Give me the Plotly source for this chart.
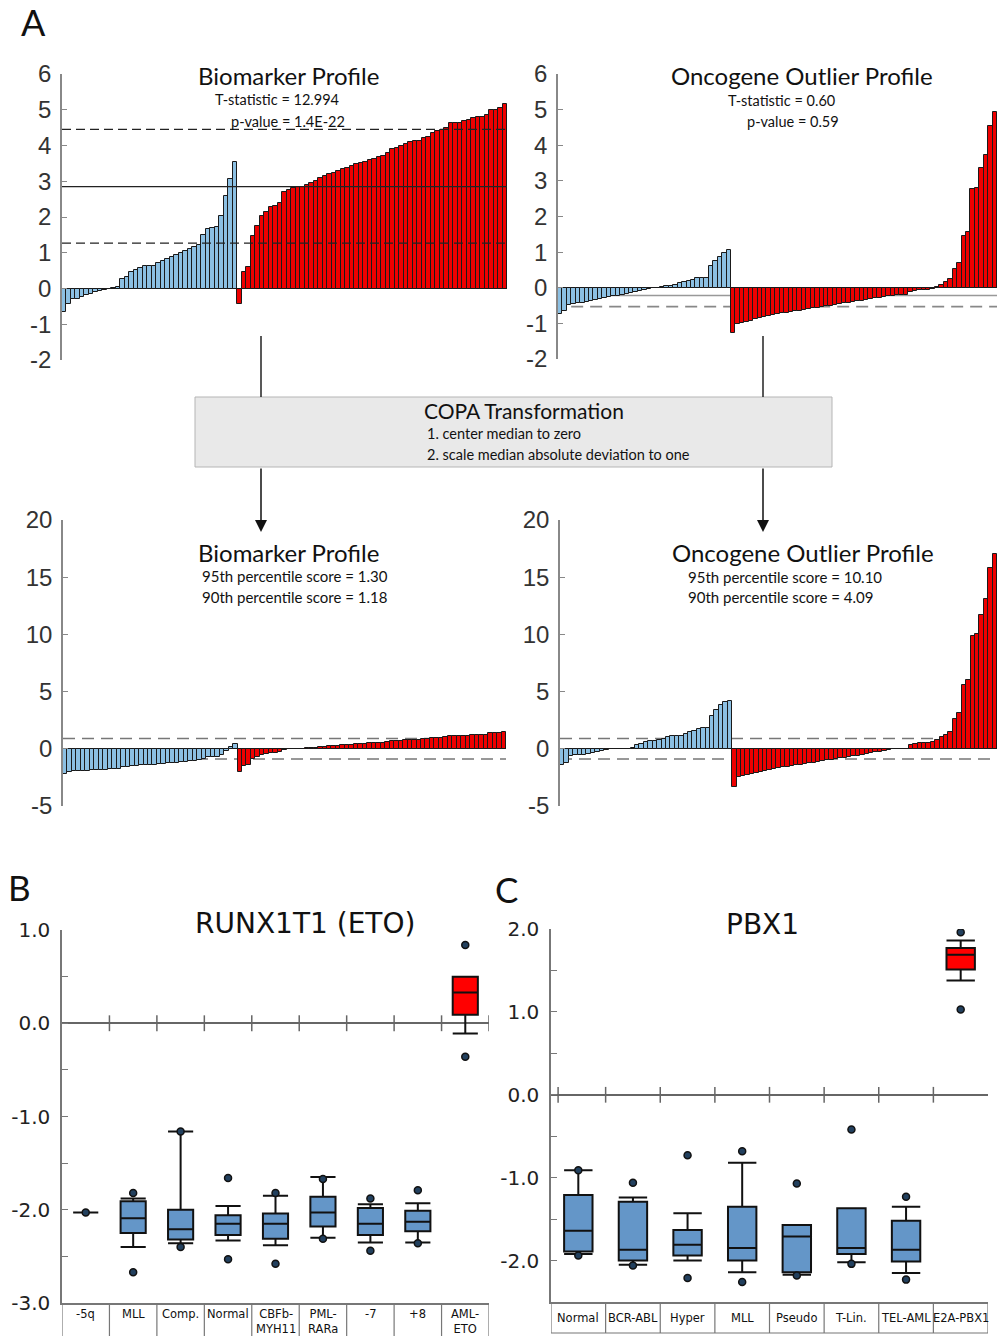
import plotly.graph_objects as go

W, H = 997, 1336
def fx(p): return p / W
def fy(p): return 1 - p / H

# ---------------- data: panel A (raw profiles) ----------------
bio_blue = [-0.65, -0.44, -0.30, -0.28, -0.23, -0.19, -0.14, -0.11, -0.07, -0.05,
            -0.02, 0.02, 0.05, 0.26, 0.33, 0.47, 0.51, 0.56, 0.62, 0.63,
            0.64, 0.70, 0.76, 0.82, 0.88, 0.93, 1.00, 1.04, 1.10, 1.16,
            1.23, 1.49, 1.67, 1.68, 1.72, 2.03, 2.60, 3.07, 3.55]
bio_red = [-0.44, 0.45, 0.59, 1.47, 1.75, 2.03, 2.13, 2.28, 2.31, 2.40,
           2.70, 2.75, 2.80, 2.83, 2.85, 2.90, 2.95, 3.00, 3.10, 3.15,
           3.20, 3.22, 3.30, 3.35, 3.38, 3.43, 3.48, 3.52, 3.55, 3.60,
           3.62, 3.67, 3.72, 3.80, 3.90, 3.92, 4.00, 4.05, 4.10, 4.12,
           4.14, 4.20, 4.25, 4.35, 4.40, 4.42, 4.50, 4.62, 4.62, 4.63,
           4.68, 4.70, 4.78, 4.80, 4.80, 4.85, 5.00, 5.00, 5.05, 5.15]
onc_blue = [-0.75, -0.66, -0.49, -0.46, -0.44, -0.42, -0.40, -0.37, -0.34, -0.31,
            -0.28, -0.26, -0.24, -0.22, -0.20, -0.17, -0.14, -0.11, -0.08, -0.05,
            -0.03, -0.01, 0.00, 0.02, 0.04, 0.06, 0.09, 0.12, 0.15, 0.19,
            0.23, 0.26, 0.27, 0.28, 0.60, 0.74, 0.87, 0.98, 1.06]
onc_red = [-1.28, -1.02, -0.98, -0.95, -0.92, -0.89, -0.86, -0.83, -0.80, -0.77,
           -0.74, -0.72, -0.70, -0.68, -0.66, -0.64, -0.62, -0.60, -0.58, -0.56,
           -0.54, -0.52, -0.50, -0.48, -0.46, -0.44, -0.42, -0.40, -0.38, -0.36,
           -0.34, -0.32, -0.30, -0.28, -0.26, -0.24, -0.22, -0.21, -0.20, -0.19,
           -0.13, -0.10, -0.07, -0.06, -0.06, -0.03, 0.03, 0.09, 0.15, 0.25,
           0.53, 0.70, 1.46, 1.56, 2.78, 2.80, 3.36, 3.74, 4.53, 4.93]

# ---------------- data: panel A (COPA transformed) ----------------
copa_bio_blue = [-2.19, -2.06, -1.97, -1.96, -1.93, -1.90, -1.87, -1.85, -1.83, -1.81,
                 -1.79, -1.77, -1.75, -1.62, -1.58, -1.49, -1.46, -1.43, -1.39, -1.39,
                 -1.38, -1.34, -1.31, -1.27, -1.23, -1.20, -1.16, -1.13, -1.09, -1.06,
                 -1.01, -0.85, -0.74, -0.73, -0.71, -0.51, -0.16, 0.14, 0.44]
copa_bio_red = [-2.06, -1.50, -1.41, -0.86, -0.69, -0.51, -0.45, -0.36, -0.34, -0.28,
                -0.09, -0.06, -0.03, -0.01, 0.00, 0.03, 0.06, 0.09, 0.16, 0.19,
                0.22, 0.23, 0.28, 0.31, 0.33, 0.36, 0.39, 0.42, 0.44, 0.47,
                0.48, 0.51, 0.54, 0.59, 0.66, 0.67, 0.72, 0.75, 0.78, 0.79,
                0.81, 0.84, 0.88, 0.94, 0.97, 0.98, 1.03, 1.11, 1.11, 1.11,
                1.14, 1.16, 1.21, 1.22, 1.22, 1.25, 1.34, 1.34, 1.38, 1.44]
copa_onc_blue = [-1.38, -1.20, -0.60, -0.55, -0.52, -0.50, -0.47, -0.35, -0.25, -0.15,
                 -0.10, -0.05, -0.03, -0.01, 0.00, 0.01, 0.10, 0.30, 0.45, 0.58,
                 0.68, 0.72, 0.80, 0.90, 1.00, 1.10, 1.10, 1.15, 1.30, 1.45,
                 1.60, 1.75, 1.80, 1.85, 2.90, 3.40, 3.80, 4.10, 4.20]
copa_onc_red = [-3.37, -2.49, -2.40, -2.30, -2.20, -2.10, -2.00, -1.92, -1.85, -1.78,
                -1.70, -1.63, -1.57, -1.50, -1.44, -1.38, -1.32, -1.26, -1.20, -1.14,
                -1.08, -1.02, -0.96, -0.90, -0.84, -0.78, -0.72, -0.66, -0.60, -0.53,
                -0.46, -0.39, -0.32, -0.25, -0.18, -0.10, -0.03, 0.00, 0.00, 0.02,
                0.30, 0.40, 0.50, 0.50, 0.55, 0.60, 0.80, 1.00, 1.20, 1.50,
                2.60, 3.10, 5.60, 6.00, 9.90, 10.00, 11.70, 13.10, 15.80, 17.00]

bio_lines = {"upper": 4.45, "median": 2.85, "lower": 1.27}
onc_lines = {"median": -0.22, "lower": -0.53}
copa_lines = {"upper": 0.9, "lower": -0.9}
raw_ticks = [-2, -1, 0, 1, 2, 3, 4, 5, 6]
copa_ticks = [-5, 0, 5, 10, 15, 20]

# ---------------- data: panel B (RUNX1T1) ----------------
b_cats = ["-5q", "MLL", "Comp.", "Normal", "CBFb-<br>MYH11", "PML-<br>RARa", "-7", "+8", "AML-<br>ETO"]
b_q1 = [-2.03, -2.25, -2.32, -2.27, -2.31, -2.18, -2.27, -2.23, 0.09]
b_med = [-2.03, -2.09, -2.21, -2.15, -2.15, -2.03, -2.15, -2.13, 0.33]
b_q3 = [-2.03, -1.91, -2.00, -2.06, -2.04, -1.86, -1.98, -2.01, 0.50]
b_lo = [-2.03, -2.40, -2.36, -2.33, -2.38, -2.30, -2.35, -2.35, -0.11]
b_hi = [-2.03, -1.88, -1.16, -1.96, -1.85, -1.65, -1.94, -1.93, 0.50]
b_out = [[-2.03], [-1.82, -2.67], [-1.16, -2.40], [-1.66, -2.53], [-1.82, -2.58],
         [-1.67, -2.31], [-1.88, -2.44], [-1.79, -2.36], [0.84, -0.36]]
b_red = [False] * 8 + [True]

# ---------------- data: panel C (PBX1) ----------------
c_cats = ["Normal", "BCR-ABL", "Hyper", "MLL", "Pseudo", "T-Lin.", "TEL-AML", "E2A-PBX1"]
c_q1 = [-1.89, -2.00, -1.94, -2.00, -2.14, -1.92, -2.01, 1.51]
c_med = [-1.64, -1.87, -1.81, -1.85, -1.71, -1.85, -1.87, 1.69]
c_q3 = [-1.21, -1.29, -1.63, -1.35, -1.57, -1.37, -1.52, 1.77]
c_lo = [-1.92, -2.05, -2.00, -2.14, -2.17, -2.02, -2.15, 1.38]
c_hi = [-0.91, -1.24, -1.43, -0.82, -1.57, -1.37, -1.35, 1.86]
c_out = [[-0.91, -1.94], [-1.06, -2.06], [-0.73, -2.21], [-0.68, -2.26],
         [-1.07, -2.18], [-0.42, -2.04], [-1.23, -2.23], [1.96, 1.03]]
c_red = [False] * 7 + [True]

BLUE = "#8CC0E3"
RED = "#EE0000"
BOXBLUE = "#6496C8"
TFONT = "Lato"

fig = go.Figure()

# ---------------- bar panels ----------------
def add_bars(blue, red, n):
    xa = "x" if n == 1 else f"x{n}"
    ya = "y" if n == 1 else f"y{n}"
    xb = list(range(len(blue)))
    xr = list(range(len(blue), len(blue) + len(red)))
    fig.add_trace(go.Bar(x=xb, y=blue, xaxis=xa, yaxis=ya, width=1,
                         marker=dict(color=BLUE, line=dict(color="#1a1a1a", width=1)),
                         showlegend=False, hoverinfo="skip"))
    fig.add_trace(go.Bar(x=xr, y=red, xaxis=xa, yaxis=ya, width=1,
                         marker=dict(color=RED, line=dict(color="#1a1a1a", width=1)),
                         showlegend=False, hoverinfo="skip"))

add_bars(bio_blue, bio_red, 1)
add_bars(onc_blue, onc_red, 2)
add_bars(copa_bio_blue, copa_bio_red, 3)
add_bars(copa_onc_blue, copa_onc_red, 4)

nbars = len(bio_blue) + len(bio_red)

def bar_axes(xdom, ydom, yr, tv, ylab_anchor):
    xa = dict(domain=xdom, range=[-0.5, nbars - 0.5], visible=False, anchor=ylab_anchor[1],
              automargin=False)
    ya = dict(domain=ydom, range=yr, anchor=ylab_anchor[0], tickvals=tv,
              ticktext=[str(v) for v in tv], ticks="inside", ticklen=5, tickwidth=1.2,
              tickcolor="#888", showline=True, linecolor="#888", linewidth=1.5,
              showgrid=False, zeroline=True, zerolinecolor="#111", zerolinewidth=1,
              tickfont=dict(family="Liberation Sans", size=24, color="#333"),
              ticklabelstandoff=4, automargin=False)
    return xa, ya

xa1, ya1 = bar_axes([fx(62), fx(507)], [fy(360), fy(74)], [-2, 6], raw_ticks, ("x", "y"))
xa2, ya2 = bar_axes([fx(558), 1.0], [fy(359), fy(74)], [-2, 6], raw_ticks, ("x2", "y2"))
xa3, ya3 = bar_axes([fx(63), fx(506)], [fy(806), fy(520)], [-5, 20], copa_ticks, ("x3", "y3"))
xa4, ya4 = bar_axes([fx(560), 1.0], [fy(806), fy(520)], [-5, 20], copa_ticks, ("x4", "y4"))

shapes = []
# reference lines, top-left (drawn over bars)
for key, val in bio_lines.items():
    shapes.append(dict(type="line", xref="x domain", yref="y", x0=0, x1=1, y0=val, y1=val,
                       line=dict(color="#222", width=1.3, dash="solid" if key == "median" else "9px,5px"),
                       layer="above"))
# top-right
shapes.append(dict(type="line", xref="x2 domain", yref="y2", x0=0, x1=1,
                   y0=onc_lines["median"], y1=onc_lines["median"],
                   line=dict(color="#999", width=1.5), layer="below"))
shapes.append(dict(type="line", xref="x2 domain", yref="y2", x0=0.03, x1=1,
                   y0=onc_lines["lower"], y1=onc_lines["lower"],
                   line=dict(color="#888", width=1.8, dash="12px,7px"), layer="below"))
# bottom panels
for n in (3, 4):
    for key, val in copa_lines.items():
        shapes.append(dict(type="line", xref=f"x{n} domain", yref=f"y{n}", x0=0, x1=1, y0=val, y1=val,
                           line=dict(color="#777", width=1.5, dash="12px,7px"), layer="below"))

# ---------------- box panels ----------------
def add_boxes(n, q1, med, q3, lo, hi, outs, red, width):
    xa, ya = f"x{n}", f"y{n}"
    for is_red, color in ((False, BOXBLUE), (True, "#FF0000")):
        idx = [i for i in range(len(q1)) if red[i] == is_red]
        fig.add_trace(go.Box(x=idx, q1=[q1[i] for i in idx], median=[med[i] for i in idx],
                             q3=[q3[i] for i in idx], lowerfence=[lo[i] for i in idx],
                             upperfence=[hi[i] for i in idx], xaxis=xa, yaxis=ya,
                             width=width, whiskerwidth=1, fillcolor=color,
                             line=dict(color="#111", width=2), boxpoints=False,
                             showlegend=False, hoverinfo="skip"))
    ox, oy = [], []
    for i, vals in enumerate(outs):
        for v in vals:
            ox.append(i)
            oy.append(v)
    fig.add_trace(go.Scatter(x=ox, y=oy, mode="markers", xaxis=xa, yaxis=ya,
                             marker=dict(size=7, color="#22405e", line=dict(color="#111", width=1.5)),
                             showlegend=False, hoverinfo="skip"))

add_boxes(5, b_q1, b_med, b_q3, b_lo, b_hi, b_out, b_red, 0.53)
add_boxes(6, c_q1, c_med, c_q3, c_lo, c_hi, c_out, c_red, 0.52)

def box_axes(xdom, ydom, ncat, yr, tv, n):
    xa = dict(domain=xdom, range=[-0.5, ncat - 0.5], anchor=f"y{n}", showline=True,
              linecolor="#777", linewidth=1.5, ticks="", showticklabels=False,
              showgrid=False, zeroline=False, automargin=False)
    tt = [(f"{v:.1f}" if float(v).is_integer() else "") for v in tv]
    ya = dict(domain=ydom, range=yr, anchor=f"x{n}", tickvals=tv, ticktext=tt,
              ticks="inside", ticklen=6, tickwidth=1.2, tickcolor="#777",
              showline=True, linecolor="#777", linewidth=1.5, showgrid=False,
              zeroline=True, zerolinecolor="#666", zerolinewidth=1.5,
              tickfont=dict(family="DejaVu Sans", size=20, color="#222"),
              ticklabelstandoff=6, automargin=False)
    return xa, ya

b_ticks = [-3, -2.5, -2, -1.5, -1, -0.5, 0, 0.5, 1]
c_ticks = [-2.5, -2, -1.5, -1, -0.5, 0, 0.5, 1, 1.5, 2]
xa5, ya5 = box_axes([fx(62), fx(489)], [fy(1303), fy(930)], len(b_cats), [-3, 1], b_ticks, 5)
xa6, ya6 = box_axes([fx(551), fx(988)], [fy(1302), fy(929)], len(c_cats), [-2.5, 2.0], c_ticks, 6)

# zero-line tick marks at category boundaries
for i in range(len(b_cats)):
    shapes.append(dict(type="line", xref="x5", yref="y5", x0=i + 0.5, x1=i + 0.5, y0=-0.085, y1=0.085,
                       line=dict(color="#666", width=1.5)))
for i in range(-1, len(c_cats) - 1):
    xb = i + 0.5 if i >= 0 else -0.37
    shapes.append(dict(type="line", xref="x6", yref="y6", x0=xb, x1=xb, y0=-0.095, y1=0.095,
                       line=dict(color="#666", width=1.5)))
# label cells
for i in range(len(b_cats) + 1):
    shapes.append(dict(type="line", xref="x5", yref="paper", x0=i - 0.5, x1=i - 0.5,
                       y0=fy(1303), y1=fy(1340), line=dict(color="#777", width=1.2)))
for i in range(len(c_cats) + 1):
    shapes.append(dict(type="line", xref="x6", yref="paper", x0=i - 0.5, x1=i - 0.5,
                       y0=fy(1302), y1=fy(1333), line=dict(color="#777", width=1.2)))
shapes.append(dict(type="line", xref="x6", yref="paper", x0=-0.5, x1=len(c_cats) - 0.5,
                   y0=fy(1333), y1=fy(1333), line=dict(color="#777", width=1.2)))

# COPA box and connectors
shapes.append(dict(type="rect", xref="paper", yref="paper", x0=fx(195), x1=fx(832),
                   y0=fy(467), y1=fy(397), fillcolor="#E9E9E9", line=dict(color="#B5B5B5", width=1),
                   layer="below"))
for xc in (261, 763):
    shapes.append(dict(type="line", xref="paper", yref="paper", x0=fx(xc), x1=fx(xc),
                       y0=fy(336), y1=fy(397), line=dict(color="#222", width=1.5)))

annotations = []
def txt(x, y, s, size, family=TFONT, xanchor="center", color="#111", xref="paper", yref="paper", yanchor="middle"):
    annotations.append(dict(x=x, y=y, xref=xref, yref=yref, text=s, showarrow=False,
                            xanchor=xanchor, yanchor=yanchor,
                            font=dict(family=family, size=size, color=color)))

for xc in (261, 763):
    annotations.append(dict(x=fx(xc), y=fy(532), xref="paper", yref="paper", text="",
                            showarrow=True, ax=0, ay=-65, arrowhead=2, arrowsize=1.6,
                            arrowwidth=1.5, arrowcolor="#111", standoff=0))

# panel letters
txt(fx(33), fy(22), "A", 36)
txt(fx(19), fy(887), "B", 35)
txt(fx(506), fy(889), "C", 35)

# top titles
txt(fx(288), fy(76), "Biomarker Profile", 24)
txt(fx(277), fy(100), "T-statistic = 12.994", 14.5)
txt(fx(288), fy(121), "p-value = 1.4E-22", 14.5)
txt(fx(802), fy(76), "Oncogene Outlier Profile", 24)
txt(fx(781), fy(101), "T-statistic = 0.60", 14.5)
txt(fx(793), fy(121), "p-value = 0.59", 14.5)

# COPA box text
txt(fx(524), fy(410), "COPA Transformation", 21)
txt(fx(425), fy(433), "1. center median to zero", 14.5, xanchor="left")
txt(fx(425), fy(455), "2. scale median absolute deviation to one", 14.5, xanchor="left")

# bottom titles
txt(fx(288), fy(552), "Biomarker Profile", 24)
txt(fx(200), fy(576), "95th percentile score = 1.30", 15, xanchor="left")
txt(fx(200), fy(597), "90th percentile score = 1.18", 15, xanchor="left")
txt(fx(803), fy(552), "Oncogene Outlier Profile", 24)
txt(fx(686), fy(577), "95th percentile score = 10.10", 15, xanchor="left")
txt(fx(686), fy(597), "90th percentile score = 4.09", 15, xanchor="left")

# box plot titles
txt(fx(305), fy(923), "RUNX1T1 (ETO)", 28, family="DejaVu Sans")
txt(fx(762), fy(925), "PBX1", 28, family="DejaVu Sans")

# category labels
for i, c in enumerate(b_cats):
    txt(i, fy(1305), c, 11.5, family="DejaVu Sans", xref="x5", yanchor="top")
for i, c in enumerate(c_cats):
    txt(i, fy(1318), c, 11.5, family="DejaVu Sans", xref="x6")

fig.update_layout(
    width=W, height=H, margin=dict(l=0, r=0, t=0, b=0, pad=0, autoexpand=False),
    paper_bgcolor="white", plot_bgcolor="white",
    bargap=0, barmode="overlay",
    xaxis=xa1, yaxis=ya1, xaxis2=xa2, yaxis2=ya2, xaxis3=xa3, yaxis3=ya3,
    xaxis4=xa4, yaxis4=ya4, xaxis5=xa5, yaxis5=ya5, xaxis6=xa6, yaxis6=ya6,
    shapes=shapes, annotations=annotations, showlegend=False,
)

fig.write_html("out.html")
